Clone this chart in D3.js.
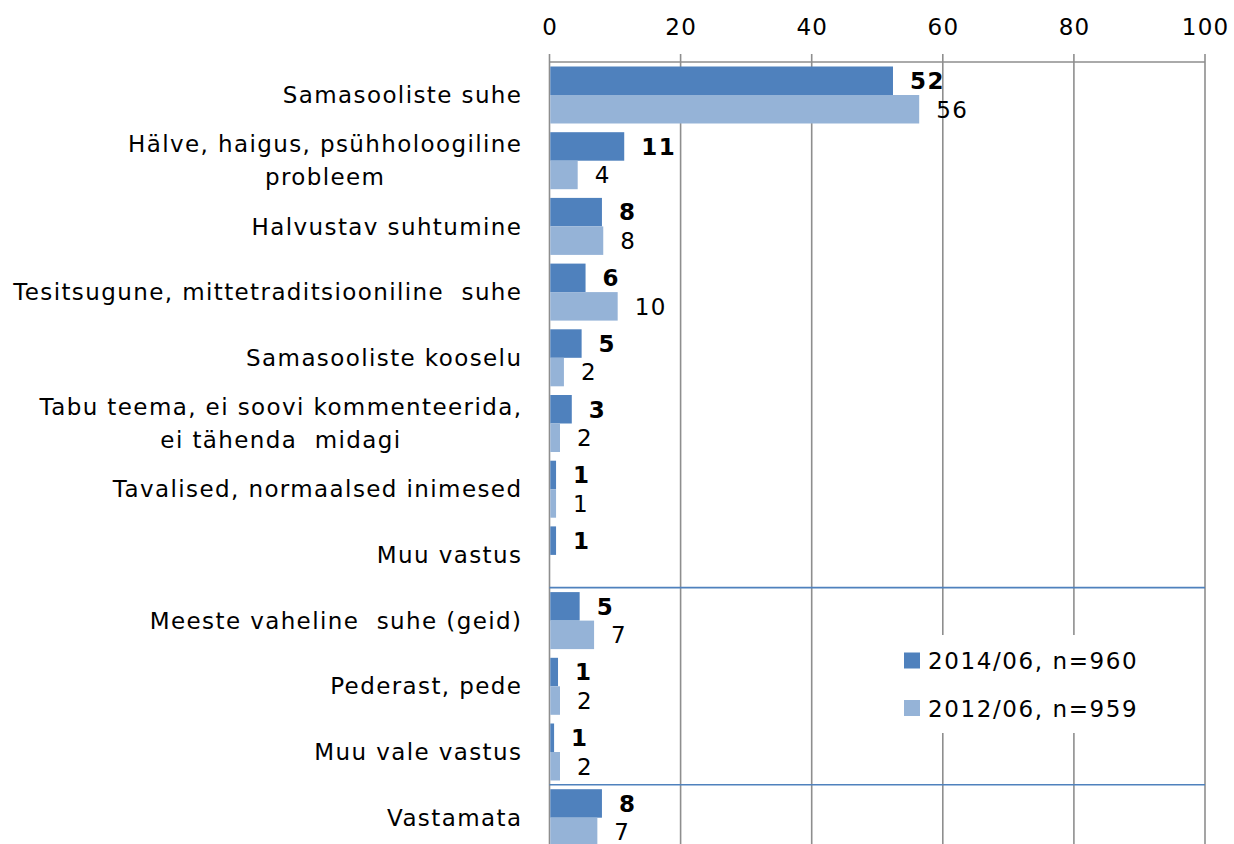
<!DOCTYPE html>
<html>
<head>
<meta charset="utf-8">
<script src="https://cdn.jsdelivr.net/npm/d3@7"></script>
<style>
  html, body { margin: 0; padding: 0; background: #fff; }
  svg { display: block; }
  text { font-family: "DejaVu Sans", Verdana, sans-serif; white-space: pre; }
</style>
</head>
<body>
<svg id="chart" width="1234" height="844"></svg>
<script>
// ---- data ----
const categories = [
  "Samasooliste suhe",
  "Hälve, haigus, psühholoogiline\nprobleem",
  "Halvustav suhtumine",
  "Tesitsugune, mittetraditsiooniline  suhe",
  "Samasooliste kooselu",
  "Tabu teema, ei soovi kommenteerida,\nei tähenda  midagi",
  "Tavalised, normaalsed inimesed",
  "Muu vastus",
  "Meeste vaheline  suhe (geid)",
  "Pederast, pede",
  "Muu vale vastus",
  "Vastamata"
];
const values2014 = [52.4, 11.4, 8.0, 5.5, 4.9, 3.4, 1.0, 1.0, 4.6, 1.3, 0.7, 8.0];
const values2012 = [56.4, 4.3, 8.2, 10.4, 2.2, 1.6, 1.0, null, 6.8, 1.6, 1.6, 7.3];
const labels2014 = ["52", "11", "8", "6", "5", "3", "1", "1", "5", "1", "1", "8"];
const labels2012 = ["56", "4", "8", "10", "2", "2", "1", "", "7", "2", "2", "7"];
const seriesNames = ["2014/06, n=960", "2012/06, n=959"];
const xTicks = [0, 20, 40, 60, 80, 100];
const groupBreaks = ["Meeste vaheline  suhe (geid)", "Vastamata"]; // separator line drawn above these

// ---- layout ----
const colors = ["#4F81BD", "#95B3D7"];
const gridColor = "#8E8E8E";
const fontSize = 23;
const plotTop = 62, step = 65.7;
const svg = d3.select("#chart");

const x = d3.scaleLinear().domain([0, 100]).range([549.5, 1205]);
const y0 = d3.scaleBand().domain(categories).range([plotTop, plotTop + step * categories.length]).padding(0);
const y1 = d3.scaleBand().domain([0, 1]).range([4.5, 61.5]).padding(0);
const plotBottom = plotTop + step * categories.length;

// gridlines
svg.append("g").selectAll("line").data(xTicks).join("line")
  .attr("x1", d => x(d)).attr("x2", d => x(d))
  .attr("y1", plotTop - 8).attr("y2", plotBottom)
  .attr("stroke", gridColor).attr("stroke-width", 1.6);

// top axis line
svg.append("line")
  .attr("x1", x(0)).attr("x2", x(100)).attr("y1", plotTop).attr("y2", plotTop)
  .attr("stroke", gridColor).attr("stroke-width", 1.6);

// tick labels
svg.append("g").selectAll("text").data(xTicks).join("text")
  .attr("x", d => x(d) + 0.6).attr("y", 35)
  .attr("text-anchor", "middle")
  .attr("font-size", fontSize).attr("letter-spacing", 1.2).attr("fill", "#000")
  .text(d => d);

// separator lines
svg.append("g").selectAll("line").data(groupBreaks).join("line")
  .attr("x1", x(0)).attr("x2", x(100))
  .attr("y1", d => y0(d)).attr("y2", d => y0(d))
  .attr("stroke", "#4F81BD").attr("stroke-width", 1.6);

// bars
const rows = categories.map((c, i) => ({ c, v: [values2014[i], values2012[i]], l: [labels2014[i], labels2012[i]] }));
const g = svg.append("g");
rows.forEach(r => {
  [0, 1].forEach(s => {
    if (r.v[s] == null) return;
    g.append("rect")
      .attr("x", x(0) + 0.8)
      .attr("y", y0(r.c) + y1(s))
      .attr("width", Math.max(0, x(r.v[s]) - x(0) - 0.8))
      .attr("height", y1.bandwidth())
      .attr("fill", colors[s]);
    g.append("text")
      .attr("x", x(r.v[s]) + 17)
      .attr("y", y0(r.c) + y1(s) + y1.bandwidth() / 2)
      .attr("dy", "0.36em")
      .attr("font-size", fontSize)
      .attr("letter-spacing", 1.5)
      .attr("font-weight", s === 0 ? "bold" : "normal")
      .attr("fill", "#000")
      .text(r.l[s]);
  });
});

// category labels
const lineH = 33;
const catLS = 1.4;
const catG = svg.append("g");
categories.forEach(c => {
  const lines = c.split("\n");
  const cy = y0(c) + step / 2;
  const tg = catG.append("g");
  const texts = lines.map((ln, k) => tg.append("text")
    .attr("y", cy + (k - (lines.length - 1) / 2) * lineH)
    .attr("dy", "0.36em")
    .attr("font-size", fontSize)
    .attr("letter-spacing", catLS)
    .attr("fill", "#000")
    .attr("text-anchor", "middle")
    .text(ln));
  const widths = texts.map(t => t.node().getComputedTextLength());
  const w = d3.max(widths);
  texts.forEach(t => t.attr("x", 521 + catLS - w / 2));
});

// legend
const lg = svg.append("g");
lg.append("rect").attr("x", 893).attr("y", 635).attr("width", 262).attr("height", 98).attr("fill", "#fff");
seriesNames.forEach((n, i) => {
  const cy = 661 + i * 47.5;
  lg.append("rect").attr("x", 904).attr("y", cy - 8.5).attr("width", 16).attr("height", 16).attr("fill", colors[i]);
  lg.append("text").attr("x", 928).attr("y", cy).attr("dy", "0.36em")
    .attr("font-size", fontSize).attr("letter-spacing", 1.6).attr("fill", "#000").text(n);
});
</script>
</body>
</html>
